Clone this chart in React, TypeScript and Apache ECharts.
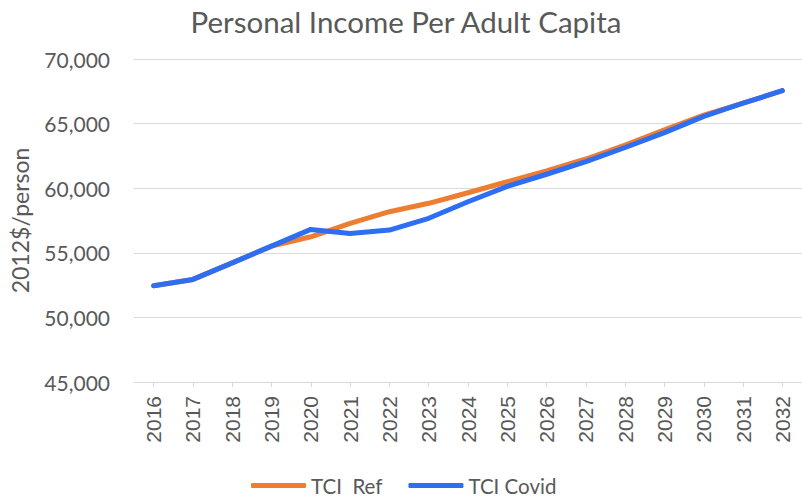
import React, { useEffect, useRef } from "react";
import * as echarts from "echarts";

const years = ["2016","2017","2018","2019","2020","2021","2022","2023","2024","2025","2026","2027","2028","2029","2030","2031","2032"];
const tciRef = [52450, 52940, 54220, 55520, 56240, 57280, 58180, 58830, 59650, 60500, 61340, 62260, 63330, 64520, 65650, 66580, 67550];
const tciCovid = [52450, 52940, 54220, 55520, 56810, 56500, 56760, 57670, 58950, 60140, 61080, 62050, 63150, 64300, 65560, 66580, 67550];
const seriesNames = ["TCI  Ref", "TCI Covid"];
const titleText = "Personal Income Per Adult Capita";
const yAxisName = "2012$/person";

const TXT = "#595959";
const FONT = "Lato";

export default function App() {
  const ref = useRef<HTMLDivElement>(null);
  useEffect(() => {
    if (!ref.current) return;
    const chart = echarts.init(ref.current, undefined, { renderer: "svg" });
    chart.setOption({
      animation: false,
      backgroundColor: "#ffffff",
      title: {
        text: titleText,
        left: 401,
        top: 1,
        textAlign: "center",
        textStyle: { fontFamily: FONT, fontSize: 29.5, fontWeight: "normal", color: TXT },
      },
      legend: {
        left: 251,
        top: 475,
        padding: 0,
        itemGap: 26,
        itemWidth: 55,
        itemHeight: 5,
        icon: "roundRect",
        textStyle: { fontFamily: FONT, fontSize: 20.5, color: TXT },
        data: seriesNames,
      },
      grid: { left: 132, top: 59, width: 673.6, bottom: 114, containLabel: false },
      xAxis: {
        type: "category",
        data: years,
        boundaryGap: true,
        axisLine: { show: true, lineStyle: { color: "#d9d9d9", width: 1 } },
        axisTick: { show: true, alignWithLabel: true, length: 5, lineStyle: { color: "#d9d9d9" } },
        axisLabel: {
          rotate: 90,
          margin: 14,
          fontFamily: "Liberation Sans",
          fontSize: 21,
          color: TXT,
          interval: 0,
        },
        splitLine: { show: false },
      },
      yAxis: {
        type: "value",
        min: 45000,
        max: 70000,
        interval: 5000,
        name: yAxisName,
        nameLocation: "middle",
        nameGap: 103,
        nameTextStyle: { fontFamily: FONT, fontSize: 23, color: TXT },
        axisLine: { show: false },
        axisTick: { show: false },
        axisLabel: {
          margin: 24,
          fontFamily: FONT,
          fontSize: 21,
          color: TXT,
          formatter: (v: number) => v.toLocaleString("en-US"),
        },
        splitLine: { show: true, lineStyle: { color: "#d9d9d9", width: 1 } },
      },
      series: [
        {
          name: seriesNames[0],
          type: "line",
          data: tciRef,
          showSymbol: false,
          symbol: "none",
          color: "#ED7D31",
          lineStyle: { width: 5, color: "#ED7D31", cap: "round", join: "round" },
          z: 2,
        },
        {
          name: seriesNames[1],
          type: "line",
          data: tciCovid,
          showSymbol: false,
          symbol: "none",
          color: "#2E6EF2",
          lineStyle: { width: 5, color: "#2E6EF2", cap: "round", join: "round" },
          z: 3,
        },
      ],
    });
    return () => chart.dispose();
  }, []);
  return (
    <div
      ref={ref}
      style={{ position: "fixed", left: 0, top: 0, width: 802, height: 496, overflow: "hidden" }}
    />
  );
}
